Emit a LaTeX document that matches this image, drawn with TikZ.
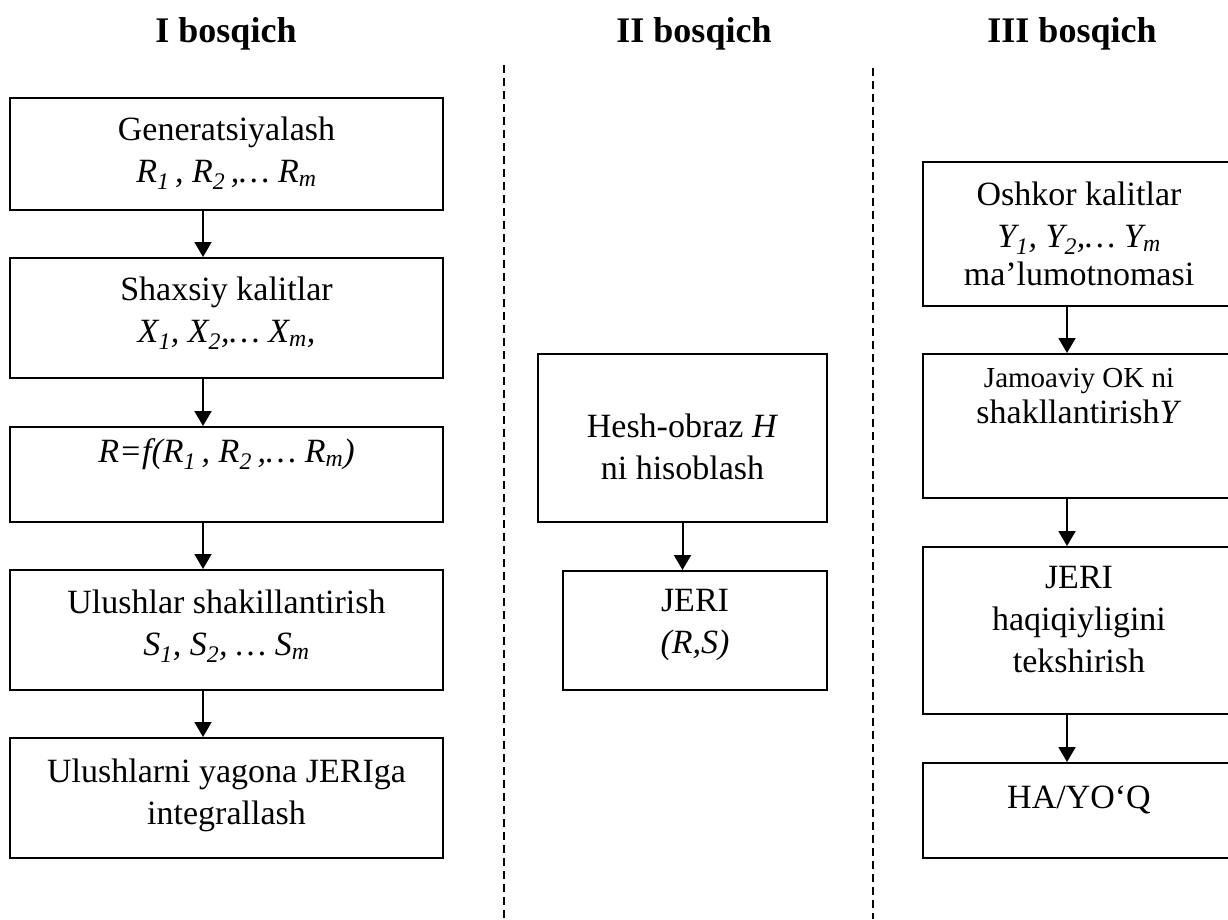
\documentclass[tikz,border=0pt]{standalone}
\usepackage{fontspec}
\setmainfont{Liberation Serif}
\usetikzlibrary{arrows.meta}

\begin{document}
\begin{tikzpicture}[x=1pt,y=-1pt,
		box/.style={draw,line width=2pt,inner sep=0pt},
		txt/.style={align=center,anchor=north,yshift=22.5pt,inner sep=0pt,font=\fontsize{34}{42}\selectfont},
		head/.style={anchor=base,inner sep=0pt,font=\fontsize{36}{40}\selectfont\bfseries},
		arr/.style={line width=2pt,-{Triangle[length=15pt,width=17pt]}},
		sep/.style={line width=1.6pt,dash pattern=on 8pt off 5pt}]
			\fill[white] (0,0) rectangle (1228,919);
			\clip (0,0) rectangle (1228,919);
			\node[head] (h1) at (226,42) {I bosqich};
			\node[head] (h2) at (694,42) {II bosqich};
			\node[head] (h3) at (1072,42) {III bosqich};
			\coordinate (d1t) at (504,65);
			\coordinate (d1b) at (504,919);
			\coordinate (d2t) at (873,68);
			\coordinate (d2b) at (873,919);
			\draw[sep] (d1t) -- (d1b);
			\draw[sep] (d2t) -- (d2b);
			\node[box,minimum width=433pt,minimum height=112pt] (gen) at (226.5,154) {};
			\node[box,minimum width=433pt,minimum height=120pt] (shx) at (226.5,318) {};
			\node[box,minimum width=433pt,minimum height=95pt] (rf) at (226.5,474.5) {};
			\node[box,minimum width=433pt,minimum height=120pt] (ulu) at (226.5,630) {};
			\node[box,minimum width=433pt,minimum height=120pt] (int) at (226.5,798) {};
			\node[box,minimum width=289pt,minimum height=168pt] (hesh) at (682.5,438) {};
			\node[box,minimum width=264pt,minimum height=119pt] (jeri) at (695,630.5) {};
			\node[box,minimum width=312pt,minimum height=144pt] (osh) at (1079,234) {};
			\node[box,minimum width=312pt,minimum height=144pt] (jam) at (1079,426) {};
			\node[box,minimum width=312pt,minimum height=167pt] (haq) at (1079,630.5) {};
			\node[box,minimum width=312pt,minimum height=95pt] (ha) at (1079,810.5) {};
			\node[txt] (gent) at ([yshift=-42pt]gen.north) {Generatsiyalash\\ \textit{R\textsubscript{1}\,, R\textsubscript{2}\,,\ldots{} R\textsubscript{m}}};
			\node[txt] (shxt) at ([yshift=-42pt]shx.north) {Shaxsiy kalitlar\\ \textit{X\textsubscript{1}, X\textsubscript{2},\ldots{} X\textsubscript{m},}};
			\node[txt] (rft) at ([yshift=-35pt]rf.north) {\textit{R=f(R\textsubscript{1}\,, R\textsubscript{2}\,,\ldots{} R\textsubscript{m})}};
			\node[txt] (ulut) at ([yshift=-43pt]ulu.north) {Ulushlar shakillantirish\\ \textit{S\textsubscript{1}, S\textsubscript{2}, \ldots{} S\textsubscript{m}}};
			\node[txt] (intt) at ([yshift=-44pt]int.north) {Ulushlarni yagona JERIga\\ integrallash};
			\node[txt] (hesht) at ([yshift=-83pt]hesh.north) {Hesh-obraz \textit{H}\\ ni hisoblash};
			\node[txt] (jerit) at ([yshift=-42pt]jeri.north) {JERI\\ \textit{(R,S)}};
			\node[txt] (osht) at ([yshift=-43pt]osh.north) {Oshkor kalitlar\\ \textit{Y\textsubscript{1}, Y\textsubscript{2},\ldots{} Y\textsubscript{m}}\\[-4pt] ma’lumotnomasi};
			\node[txt] (jamt) at ([yshift=-38pt]jam.north) {{\fontsize{29}{36}\selectfont Jamoaviy OK ni}\\[-6pt] shakllantirish\textit{Y}};
			\node[txt] (haqt) at ([yshift=-43pt]haq.north) {JERI\\ haqiqiyligini\\ tekshirish};
			\node[txt] (hat) at ([yshift=-46pt]ha.north) {HA/YO‘Q};
			\foreach \a/\b in {gen/shx,shx/rf,rf/ulu,ulu/int}{
				\draw[arr] ([xshift=-23.5pt]\a.south) -- ([xshift=-23.5pt]\b.north);
			}
			\draw[arr] (hesh.south) -- (hesh.south |- jeri.north);
			\foreach \a/\b in {osh/jam,jam/haq,haq/ha}{
				\draw[arr] ([xshift=-12pt]\a.south) -- ([xshift=-12pt]\b.north);
			}
		\end{tikzpicture}
\end{document}
